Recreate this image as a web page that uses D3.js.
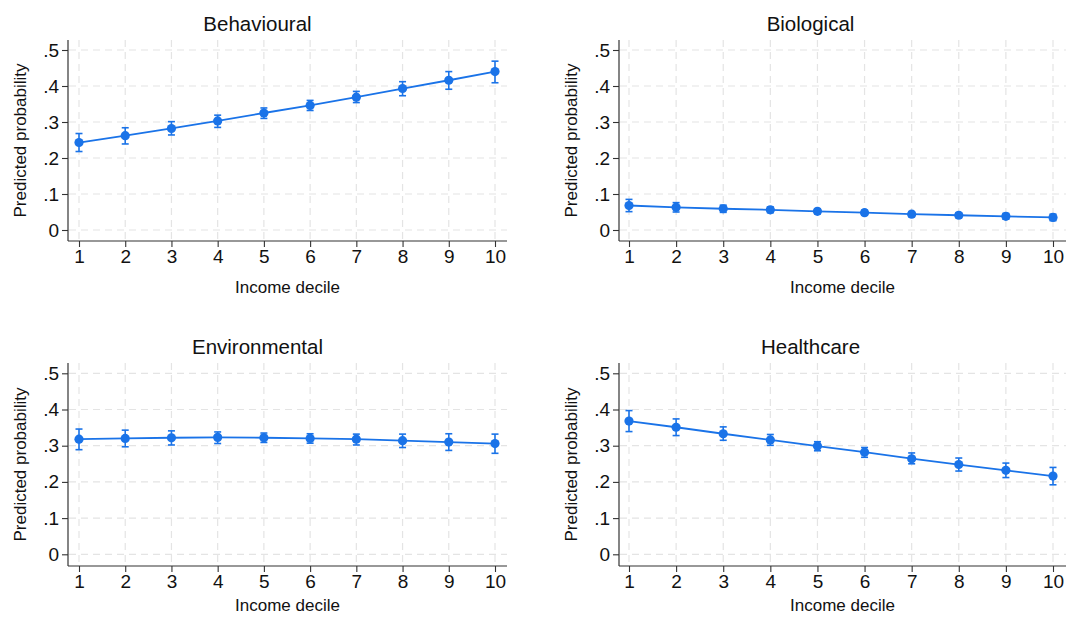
<!DOCTYPE html>
<html>
<head>
<meta charset="utf-8">
<script src="https://cdn.jsdelivr.net/npm/d3@7"></script>
<style>
  body { margin: 0; background: #fff; }
  text { font-family: "Liberation Sans", Arial, Helvetica, sans-serif; fill: #111; }
</style>
</head>
<body>
<svg id="chart" width="1072" height="617"></svg>
<script>
var deciles = [1, 2, 3, 4, 5, 6, 7, 8, 9, 10];
var yTicks = [0, 0.1, 0.2, 0.3, 0.4, 0.5];
var yTickLabels = ["0", ".1", ".2", ".3", ".4", ".5"];
var titles = ["Behavioural", "Biological", "Environmental", "Healthcare"];

var behavEst = [0.243, 0.262, 0.282, 0.303, 0.325, 0.346, 0.369, 0.393, 0.416, 0.440];
var behavLo  = [0.218, 0.239, 0.264, 0.285, 0.310, 0.332, 0.354, 0.373, 0.391, 0.409];
var behavHi  = [0.268, 0.284, 0.301, 0.319, 0.339, 0.360, 0.385, 0.412, 0.440, 0.469];

var bioEst = [0.068, 0.063, 0.059, 0.056, 0.052, 0.048, 0.044, 0.041, 0.038, 0.035];
var bioLo  = [0.051, 0.050, 0.049, 0.048, 0.045, 0.041, 0.037, 0.034, 0.030, 0.026];
var bioHi  = [0.085, 0.076, 0.069, 0.064, 0.059, 0.055, 0.051, 0.048, 0.046, 0.044];

var envEst = [0.318, 0.320, 0.322, 0.323, 0.322, 0.320, 0.318, 0.314, 0.310, 0.306];
var envLo  = [0.289, 0.297, 0.302, 0.306, 0.309, 0.307, 0.302, 0.295, 0.287, 0.279];
var envHi  = [0.346, 0.343, 0.341, 0.338, 0.335, 0.333, 0.332, 0.332, 0.333, 0.332];

var healthEst = [0.368, 0.351, 0.333, 0.316, 0.299, 0.282, 0.264, 0.248, 0.232, 0.216];
var healthLo  = [0.339, 0.328, 0.315, 0.301, 0.286, 0.268, 0.250, 0.230, 0.212, 0.192];
var healthHi  = [0.397, 0.374, 0.352, 0.331, 0.311, 0.295, 0.280, 0.266, 0.252, 0.240];

var panelData = [
  [behavEst, behavLo, behavHi],
  [bioEst, bioLo, bioHi],
  [envEst, envLo, envHi],
  [healthEst, healthLo, healthHi]
];

// layout of the four plot regions (axis line boxes)
var panels = [
  {left: 68,  right: 507,  top: 40,  bottom: 241, x1: 79,  x10: 495,  y0: 230,   y5: 50,    lab: 293},
  {left: 619, right: 1066, top: 40,  bottom: 241, x1: 629, x10: 1053, y0: 230,   y5: 50,    lab: 293},
  {left: 68,  right: 507,  top: 363, bottom: 566, x1: 79,  x10: 495,  y0: 554.3, y5: 373.3, lab: 611},
  {left: 619, right: 1066, top: 363, bottom: 566, x1: 629, x10: 1053, y0: 554.3, y5: 373.3, lab: 611}
];

var blue = "#1a73e8";
var svg = d3.select("#chart");

panels.forEach(function(p, k) {
  var est = panelData[k][0], lo = panelData[k][1], hi = panelData[k][2];
  var g = svg.append("g");

  var x = d3.scaleLinear().domain([1, 10]).range([p.x1, p.x10]);
  var y = d3.scaleLinear().domain([0, 0.5]).range([p.y0, p.y5]);

  // dashed grid
  g.append("g").selectAll("line.h").data(yTicks).enter().append("line")
    .attr("x1", p.left + 1).attr("x2", p.right)
    .attr("y1", function(d) { return y(d); }).attr("y2", function(d) { return y(d); })
    .attr("stroke", "#e4e4e4").attr("stroke-width", 1.2).attr("stroke-dasharray", "7,5");
  g.append("g").selectAll("line.v").data(deciles).enter().append("line")
    .attr("x1", function(d) { return x(d); }).attr("x2", function(d) { return x(d); })
    .attr("y1", p.top).attr("y2", p.bottom - 1)
    .attr("stroke", "#e4e4e4").attr("stroke-width", 1.2).attr("stroke-dasharray", "7,5");

  // axes
  var yAxis = d3.axisLeft(y).tickValues(yTicks)
    .tickFormat(function(d, i) { return yTickLabels[i]; })
    .tickSize(6).tickPadding(3).tickSizeOuter(0);
  var ya = g.append("g").attr("transform", "translate(" + p.left + ",0)").call(yAxis);
  ya.select(".domain").remove();
  g.append("line").attr("x1", p.left).attr("x2", p.left).attr("y1", p.top).attr("y2", p.bottom)
    .attr("stroke", "#333").attr("stroke-width", 1.2);

  var xAxis = d3.axisBottom(x).tickValues(deciles).tickFormat(d3.format("d"))
    .tickSize(6).tickPadding(3).tickSizeOuter(0);
  var xa = g.append("g").attr("transform", "translate(0," + p.bottom + ")").call(xAxis);
  xa.select(".domain").remove();
  g.append("line").attr("x1", p.left).attr("x2", p.right).attr("y1", p.bottom).attr("y2", p.bottom)
    .attr("stroke", "#333").attr("stroke-width", 1.2);

  g.selectAll(".tick line").attr("stroke", "#333").attr("stroke-width", 1.1);
  g.selectAll(".tick text").style("font-family", "'Liberation Sans', Arial, sans-serif")
    .style("font-size", "19px").attr("fill", "#111");

  // titles
  var cx = (p.left + p.right) / 2;
  g.append("text").attr("x", cx + (k % 2 ? -32 : -30)).attr("y", p.top - 9)
    .attr("text-anchor", "middle").style("font-size", "20.5px").text(titles[k]);
  g.append("text").attr("x", cx + 0).attr("y", p.lab)
    .attr("text-anchor", "middle").style("font-size", "17px").text("Income decile");
  g.append("text")
    .attr("transform", "translate(" + (p.left - 42) + "," + ((p.top + p.bottom) / 2) + ") rotate(-90)")
    .attr("text-anchor", "middle").style("font-size", "17px").text("Predicted probability");

  // confidence intervals
  var ci = g.append("g");
  deciles.forEach(function(d, i) {
    ci.append("line").attr("x1", x(d)).attr("x2", x(d)).attr("y1", y(lo[i])).attr("y2", y(hi[i]))
      .attr("stroke", blue).attr("stroke-width", 1.6);
    [lo[i], hi[i]].forEach(function(v) {
      ci.append("line").attr("x1", x(d) - 3.5).attr("x2", x(d) + 3.5).attr("y1", y(v)).attr("y2", y(v))
        .attr("stroke", blue).attr("stroke-width", 1.6);
    });
  });

  // line and points
  var line = d3.line().x(function(d, i) { return x(deciles[i]); }).y(function(d) { return y(d); });
  g.append("path").datum(est).attr("d", line).attr("fill", "none")
    .attr("stroke", blue).attr("stroke-width", 1.8);
  g.selectAll("circle").data(est).enter().append("circle")
    .attr("cx", function(d, i) { return x(deciles[i]); }).attr("cy", function(d) { return y(d); })
    .attr("r", 4.6).attr("fill", blue);
});
</script>
</body>
</html>
